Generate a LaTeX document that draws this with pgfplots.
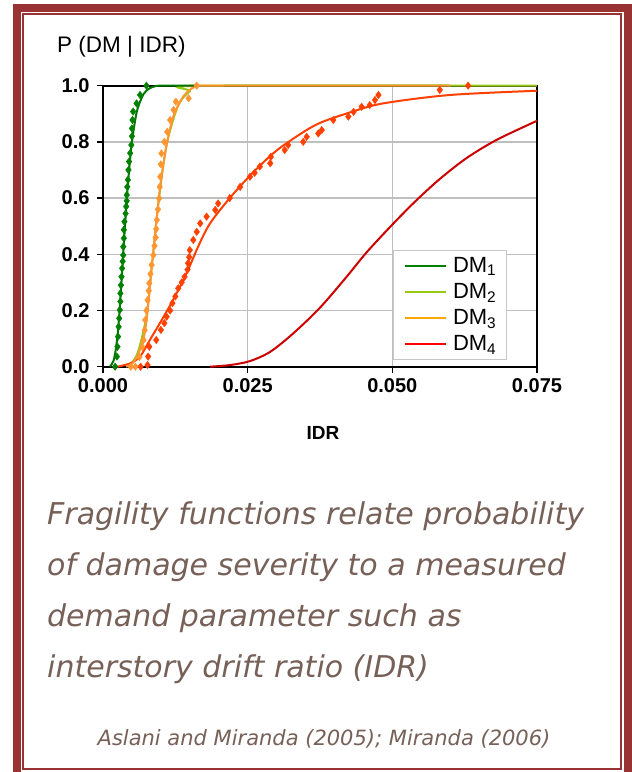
\documentclass[border=0pt]{standalone}
\usepackage{pgfplots}
\pgfplotsset{compat=1.18}
\usepackage{fontspec}
\setmainfont{Liberation Sans}
\newfontfamily\capfont{DejaVu Sans}
\definecolor{framecol}{RGB}{153,51,51}
\definecolor{capcol}{RGB}{118,96,88}
\definecolor{cDMa}{RGB}{0,128,0}
\definecolor{cDMb}{RGB}{150,200,20}
\definecolor{cDMc}{RGB}{255,165,0}
\definecolor{cDMd}{RGB}{255,0,0}
\definecolor{gfit}{RGB}{0,120,0}
\definecolor{ofit}{RGB}{255,150,50}
\definecolor{rfit}{RGB}{255,64,0}
\definecolor{dfit}{RGB}{205,0,0}
\begin{document}
\begin{tikzpicture}[x=1pt,y=1pt]
\useasboundingbox (0,0) rectangle (632,772);
\fill[white] (0,0) rectangle (632,772);
\begin{scope}
\clip (0,0) rectangle (632,772);
\draw[framecol, line width=8pt] (17,-4) rectangle (628,764);
\draw[framecol, line width=2pt] (23,3) rectangle (621,758);
\end{scope}
\node[anchor=west, inner sep=0pt, font=\fontsize{22.5}{22.5}\selectfont] at (57,725) {P (DM | IDR)};
\begin{axis}[
  at={(103pt,405.3pt)}, anchor=south west,
  scale only axis, width=434pt, height=281pt,
  xmin=0, xmax=0.075, ymin=0, ymax=1,
  xtick={0,0.025,0.05,0.075}, ytick={0,0.2,0.4,0.6,0.8,1.0},
  scaled x ticks=false,
  grid=major, grid style={black!25, line width=1.3pt},
  axis line style={line width=2.2pt},
  tick style={black, line width=1.5pt},
  tick align=outside, major tick length=6pt,
  xtick pos=bottom, ytick pos=left,
  /pgf/number format/assume math mode=true,
  xticklabel style={/pgf/number format/fixed, /pgf/number format/fixed zerofill, /pgf/number format/precision=3, yshift=-2pt},
  yticklabel style={/pgf/number format/fixed, /pgf/number format/fixed zerofill, /pgf/number format/precision=1, xshift=-4pt},
  ticklabel style={font=\fontsize{20}{20}\selectfont\bfseries},
  xlabel={IDR},
  xlabel style={at={(axis description cs:0.507,0)}, anchor=center, yshift=-66pt, font=\fontsize{19}{19}\selectfont\bfseries},
  clip=false,
  legend style={at={(rel axis cs:0.668,0.024)}, anchor=south west, draw=black!22, line width=1pt, fill=white,
    row sep=5.5pt, inner xsep=11pt, inner ysep=5pt, nodes={inner xsep=6pt, text width=36pt},
    font=\fontsize{22}{22}\selectfont},
  legend cell align=left,
  legend image code/.code={\draw[mark repeat=2,mark phase=2, line width=1.6pt] plot coordinates {(0pt,0pt) (20pt,0pt) (41pt,0pt)};},
]
% DM4 dark red fit
\addplot[dfit, line width=2pt, smooth, forget plot] coordinates {
(0.0185,0) (0.022,0.006) (0.0254,0.02) (0.0289,0.053) (0.0329,0.119) (0.0375,0.21) (0.0421,0.32) (0.0456,0.408)
(0.0502,0.51) (0.0542,0.593) (0.0582,0.668) (0.0628,0.742) (0.068,0.807) (0.075,0.875)};

% DM2 light green line
\addplot[cDMb, line width=2pt, smooth, forget plot] coordinates {
(0.0045,0) (0.006,0.05) (0.0075,0.18) (0.0085,0.37) (0.0095,0.57) (0.011,0.79) (0.013,0.93) (0.015,0.98) (0.017,1) (0.075,1)};

% orange-red fit
\addplot[rfit, line width=2pt, smooth, forget plot] coordinates {
(0.0025,0) (0.0047,0.012) (0.0064,0.036) (0.0081,0.095) (0.0098,0.154) (0.0121,0.237) (0.0145,0.335) (0.0165,0.43)
(0.0185,0.51) (0.0219,0.6) (0.0254,0.68) (0.0289,0.75) (0.0317,0.795) (0.0369,0.862) (0.0427,0.905) (0.0484,0.937)
(0.06,0.967) (0.075,0.982)};

% orange fit
\addplot[ofit, line width=2pt, smooth, forget plot] coordinates {
(0.004,0) (0.005,0.01) (0.006,0.04) (0.007,0.1) (0.0075,0.16) (0.008,0.26) (0.0085,0.37) (0.009,0.47) (0.0095,0.57)
(0.01,0.66) (0.011,0.79) (0.012,0.88) (0.013,0.93) (0.014,0.965) (0.015,0.985) (0.016,0.997) (0.017,1.0) (0.06,1.0)};

% green fit
\addplot[gfit, line width=2pt, smooth, forget plot] coordinates {
(0.0012,0) (0.0018,0.02) (0.0022,0.06) (0.0026,0.13) (0.003,0.24) (0.0034,0.37) (0.0038,0.5) (0.0042,0.62)
(0.0046,0.72) (0.005,0.8) (0.0055,0.87) (0.006,0.92) (0.007,0.97) (0.008,0.99) (0.009,0.998) (0.01,1.0) (0.016,1.0)};

% orange-red data
\addplot[only marks, mark=diamond*, mark size=3.8pt, mark options={fill=rfit, draw=rfit, line width=0.3pt}, forget plot] coordinates {
(0.0065,0.0) (0.0077,0.006) (0.0078,0.036) (0.0080,0.071) (0.0092,0.095) (0.0100,0.131) (0.0106,0.155) (0.0110,0.178)
(0.0116,0.2) (0.0120,0.226) (0.0125,0.25) (0.0130,0.279) (0.0136,0.3) (0.0141,0.32) (0.0146,0.345) (0.0147,0.368) (0.0149,0.39)
(0.015,0.415) (0.0156,0.451) (0.0162,0.48) (0.0168,0.51) (0.0179,0.534) (0.0194,0.558) (0.0199,0.581) (0.0219,0.6)
(0.0237,0.64) (0.0254,0.676) (0.0262,0.69) (0.0271,0.712) (0.0289,0.724) (0.029,0.747) (0.0314,0.771) (0.032,0.789)
(0.0346,0.8) (0.0352,0.818) (0.0372,0.83) (0.0378,0.842) (0.0398,0.878) (0.0424,0.89) (0.0433,0.907) (0.0447,0.925)
(0.0461,0.931) (0.047,0.949) (0.0476,0.967) (0.0582,0.985) (0.0631,1.0)};

% orange data
\addplot[only marks, mark=diamond*, mark size=3.8pt, mark options={fill=ofit, draw=ofit, line width=0.3pt}, forget plot] coordinates {
(0.0048,0) (0.0056,0.0) (0.0063,0.035) (0.0068,0.07) (0.0070,0.095) (0.0072,0.13) (0.0073,0.166) (0.0075,0.2)
(0.0077,0.237) (0.0079,0.27) (0.008,0.297) (0.0082,0.33) (0.0084,0.362) (0.0087,0.397) (0.0089,0.43) (0.0091,0.46)
(0.0092,0.49) (0.0093,0.522) (0.0095,0.56) (0.0097,0.599) (0.0098,0.64) (0.0099,0.676) (0.01,0.72) (0.0101,0.759)
(0.0106,0.8) (0.0111,0.836) (0.0116,0.878) (0.0122,0.914) (0.0126,0.943) (0.0148,0.955) (0.0162,1.0)};

% green data
\addplot[only marks, mark=diamond*, mark size=3.8pt, mark options={fill=cDMa, draw=cDMa, line width=0.3pt}, forget plot] coordinates {
(0.0021,0.0) (0.0024,0.036) (0.0025,0.071) (0.0026,0.107) (0.0027,0.142) (0.0028,0.172) (0.0029,0.202) (0.003,0.232)
(0.003,0.261) (0.0031,0.29) (0.0032,0.32) (0.0033,0.35) (0.0034,0.375) (0.0035,0.397) (0.0035,0.427) (0.0036,0.457)
(0.0036,0.487) (0.0037,0.516) (0.0039,0.545) (0.004,0.57) (0.0041,0.59) (0.0041,0.611) (0.0042,0.64) (0.0043,0.665)
(0.0044,0.7) (0.0045,0.73) (0.0047,0.76) (0.0049,0.789) (0.005,0.82) (0.005,0.848) (0.0051,0.878) (0.0052,0.908)
(0.0058,0.937) (0.0064,0.967) (0.0075,1.0)};

\addlegendimage{draw=cDMa}\addlegendentry{DM\textsubscript{1}}
\addlegendimage{draw=cDMb}\addlegendentry{DM\textsubscript{2}}
\addlegendimage{draw=cDMc}\addlegendentry{DM\textsubscript{3}}
\addlegendimage{draw=cDMd}\addlegendentry{DM\textsubscript{4}}
\end{axis}
\begin{scope}[every node/.style={anchor=base west, inner sep=0pt, text=capcol, font=\capfont\itshape\fontsize{30}{30}\selectfont}]
\node at (47,247) {Fragility functions relate probability};
\node at (47,196) {of damage severity to a measured};
\node at (47,145) {demand parameter such as};
\node at (47,94) {interstory drift ratio (IDR)};
\end{scope}
\node[anchor=base, inner sep=0pt, text=capcol, font=\capfont\itshape\fontsize{21}{21}\selectfont] at (324,27) {Aslani and Miranda (2005); Miranda (2006)};
\end{tikzpicture}
\end{document}
